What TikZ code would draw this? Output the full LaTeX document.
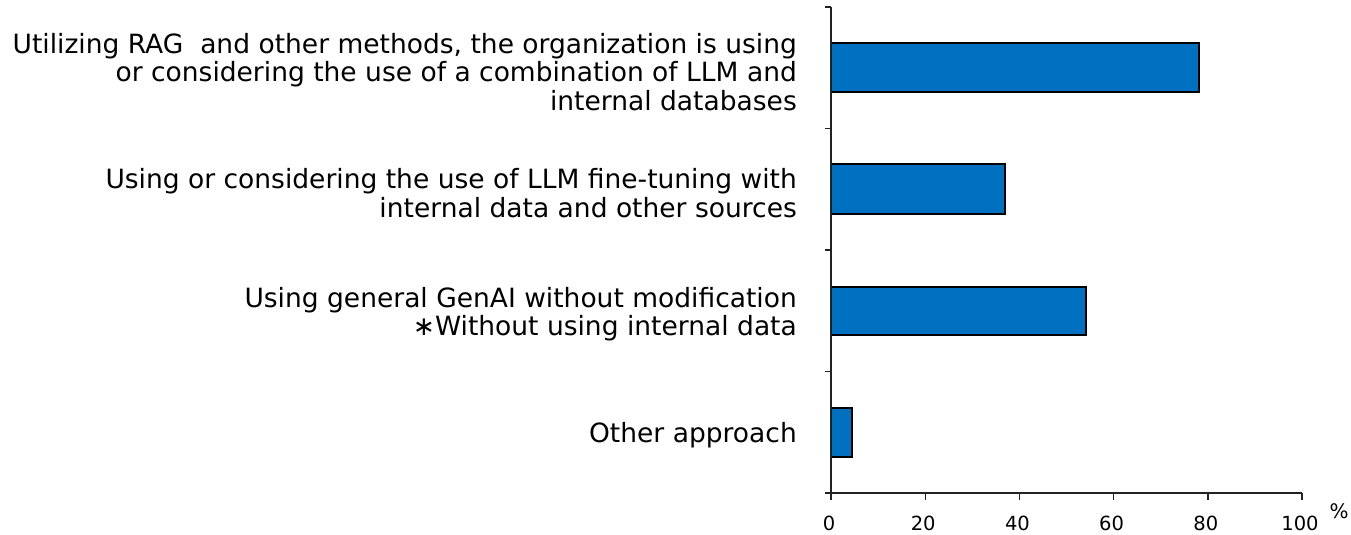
\documentclass[tikz,border=0pt]{standalone}
\usepackage{fontspec}
\setmainfont{DejaVu Sans}
\definecolor{barblue}{HTML}{0070C0}
\definecolor{axisgray}{HTML}{222222}
\begin{document}
\begin{tikzpicture}[x=1pt,y=-1pt,
  bar/.style={draw=black, line width=1.4pt, fill=barblue},
  axisline/.style={draw=axisgray, line width=1.4pt},
  lbl/.style={anchor=east, align=right, font=\fontsize{26.5}{28.5}\selectfont, inner sep=0pt},
  ticklbl/.style={font=\fontsize{19.5}{21}\selectfont, inner sep=0pt}]
\useasboundingbox (0,0) rectangle (1351,535);
% bars
\draw[bar] (831,43) rectangle (1199,92);
\draw[bar] (831,164) rectangle (1005,214);
\draw[bar] (831,287) rectangle (1086,335);
\draw[bar] (831,408) rectangle (852,457);
% axes
\draw[axisline] (831,7) -- (831,493);
\foreach \y in {7,128.5,250,371.5} \draw[axisline] (825,\y) -- (831,\y);
\draw[axisline] (825,493) -- (1302,493);
\foreach \v [count=\i from 0] in {0,20,40,60,80,100} {
  \draw[axisline] ({831+94.2*\i},493) -- ({831+94.2*\i},500);
  \node[ticklbl] (t\i) at ({829+94.2*\i},523) {\v};
}
\node[ticklbl, font=\fontsize{20}{22}\selectfont] (pct) at (1339,511) {\%};
% labels
\node[lbl] (l1) at (797,72) {Utilizing RAG\ \ and other methods, the organization is using\\or considering the use of a combination of LLM and\\internal databases};
\node[lbl] (l2) at (797,193) {Using or considering the use of LLM fine-tuning with\\internal data and other sources};
\node[lbl] (l3) at (797,314) {Using general GenAI without modification\\∗Without using internal data};
\node[lbl] (l4) at (797,435) {Other approach};
\end{tikzpicture}
\end{document}
